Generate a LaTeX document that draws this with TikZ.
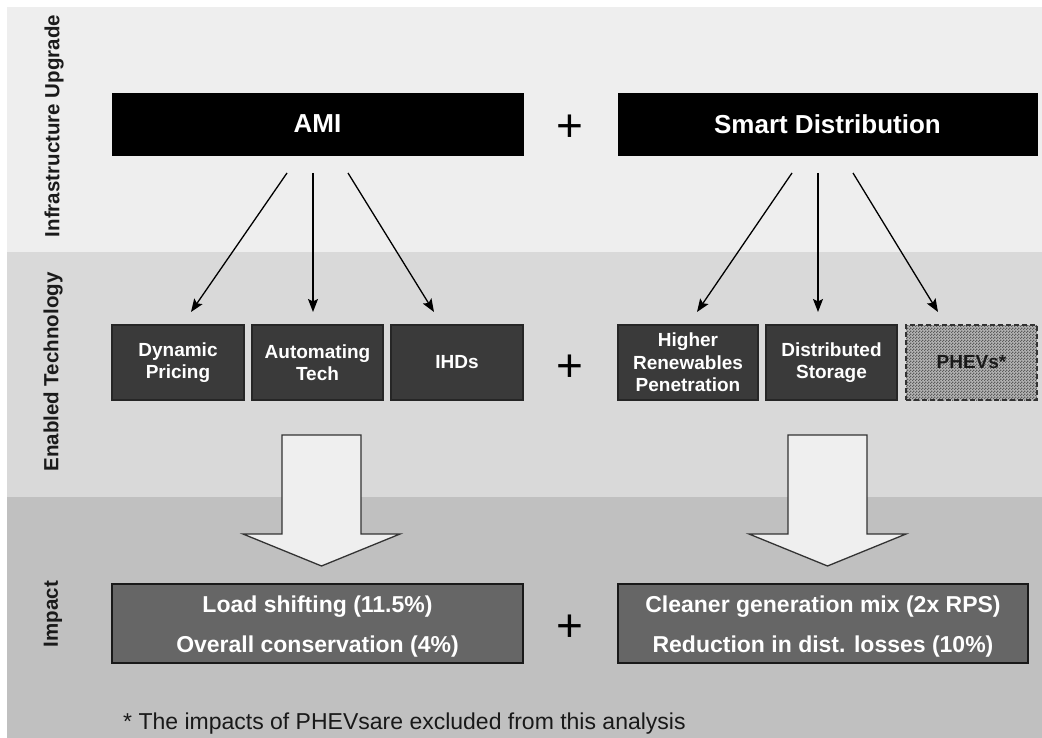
\documentclass[tikz,border=0pt]{standalone}
\usepackage{fontspec}
\setmainfont{Liberation Sans}
\usetikzlibrary{arrows.meta,patterns.meta}
\definecolor{bandA}{HTML}{EEEEEE}
\definecolor{bandB}{HTML}{D9D9D9}
\definecolor{bandC}{HTML}{C0C0C0}
\definecolor{techfill}{HTML}{3A3A3A}
\definecolor{impfill}{HTML}{666666}
\definecolor{labelcol}{HTML}{1A1A1A}
\definecolor{arrowfill}{HTML}{EFEFEF}
\definecolor{checkbase}{HTML}{B4B4B4}
\definecolor{checkdark}{HTML}{5C5C5C}
\tikzdeclarepattern{
  name=finecheck,
  type=uncolored,
  bounding box={(0pt,0pt) and (3pt,3pt)},
  tile size={(3pt,3pt)},
  code={\fill (0pt,0pt) rectangle (1.5pt,1.5pt); \fill (1.5pt,1.5pt) rectangle (3pt,3pt);}
}
\begin{document}
\begin{tikzpicture}[x=1pt,y=-1pt,
  infrabox/.style={fill=black, draw=black, minimum height=62pt, inner sep=0pt,
    text=white, font=\fontsize{26}{30}\selectfont\bfseries},
  techbox/.style={fill=techfill, draw=black!85, line width=1.2pt, minimum height=75pt,
    inner sep=0pt, text=white, align=center, font=\fontsize{19}{22.5}\selectfont\bfseries},
  phevbox/.style={preaction={fill=checkbase}, pattern=finecheck, pattern color=checkdark,
    draw=black!80, dash pattern=on 5pt off 3pt, line width=1.2pt, minimum height=75pt,
    inner sep=0pt, text=labelcol, font=\fontsize{19}{22.5}\selectfont\bfseries},
  impbox/.style={fill=impfill, draw=black!90, line width=1.2pt, minimum height=79pt, inner sep=0pt},
  imptext/.style={text=white, inner sep=0pt, anchor=base, font=\fontsize{23}{27}\selectfont\bfseries},
  sidelabel/.style={rotate=90, text=labelcol, inner sep=0pt, font=\fontsize{20.5}{24}\selectfont\bfseries},
  plussign/.style={inner sep=0pt, text=black, font=\fontsize{46}{50}\selectfont},
  thinarrow/.style={line width=1.3pt, -{Stealth[length=13pt,width=10pt,inset=2.5pt]}},
  blockarrow/.style={fill=arrowfill, draw=black!80, line width=1.3pt, line join=miter}
]
\useasboundingbox (0,0) rectangle (1042,738);
% background bands
\fill[white] (0,0) rectangle (1042,738);
\fill[bandA] (7,7) rectangle (1042,252);
\fill[bandB] (7,252) rectangle (1042,497);
\fill[bandC] (7,497) rectangle (1042,738);

% side labels
\node[sidelabel] (lab1) at (54,126) {Infrastructure Upgrade};
\node[sidelabel] (lab2) at (53,372) {Enabled Technology};
\node[sidelabel] (lab3) at (53,614) {Impact};

% infrastructure row
\node[infrabox, minimum width=411pt] (ami) at (317.5,124) {AMI};
\node[infrabox, minimum width=419pt] (sd) at (827.5,124) {Smart Distribution};
\node[plussign] (p1) at (570,128) {+};

% technology row
\node[techbox, minimum width=132pt] (dp) at (178,362.5) {Dynamic\\Pricing};
\node[techbox, minimum width=131pt] (at) at (317.5,362.5) {Automating\\Tech};
\node[techbox, minimum width=132pt] (ihd) at (457,362.5) {IHDs};
\node[plussign] (p2) at (570,368) {+};
\node[techbox, minimum width=140pt] (hr) at (688,362.5) {Higher\\Renewables\\Penetration};
\node[techbox, minimum width=131pt] (ds) at (831.5,362.5) {Distributed\\Storage};
\node[phevbox, minimum width=131pt] (ph) at (971.5,362.5) {PHEVs*};

% thin arrows
\coordinate (a1s) at (287,173);  \coordinate (a1e) at (191,312);
\coordinate (a2s) at (313,173);  \coordinate (a2e) at (313,312);
\coordinate (a3s) at (348,173);  \coordinate (a3e) at (434,312);
\coordinate (b1s) at (792,173);  \coordinate (b1e) at (697,312);
\coordinate (b2s) at (818,173);  \coordinate (b2e) at (818,312);
\coordinate (b3s) at (853,173);  \coordinate (b3e) at (938,312);
\draw[thinarrow] (a1s) -- (a1e);
\draw[thinarrow] (a2s) -- (a2e);
\draw[thinarrow] (a3s) -- (a3e);
\draw[thinarrow] (b1s) -- (b1e);
\draw[thinarrow] (b2s) -- (b2e);
\draw[thinarrow] (b3s) -- (b3e);

% block arrows
\draw[blockarrow] (282,435) -- (361,435) -- (361,534) -- (400,534) -- (321.5,566)
  -- (243,534) -- (282,534) -- cycle;
\draw[blockarrow] (788,435) -- (867,435) -- (867,534) -- (906,534) -- (827.5,566)
  -- (749,534) -- (788,534) -- cycle;

% impact row
\node[impbox, minimum width=411pt] (il) at (317.5,623.5) {};
\node[imptext] (il1) at (317.5,612) {Load shifting (11.5\%)};
\node[imptext] (il2) at (317.5,652) {Overall conservation (4\%)};
\node[plussign] (p3) at (570,628) {+};
\node[impbox, minimum width=410pt] (ir) at (823,623.5) {};
\node[imptext] (ir1) at (823,612) {Cleaner generation mix (2x RPS)};
\node[imptext] (ir2) at (823,652) {Reduction in dist. losses (10\%)};

% footnote
\node[anchor=base west, inner sep=0pt, text=black!90, font=\fontsize{23}{26}\selectfont] (fn)
  at (123,729) {* The impacts of PHEVsare excluded from this analysis};
\end{tikzpicture}
\end{document}
